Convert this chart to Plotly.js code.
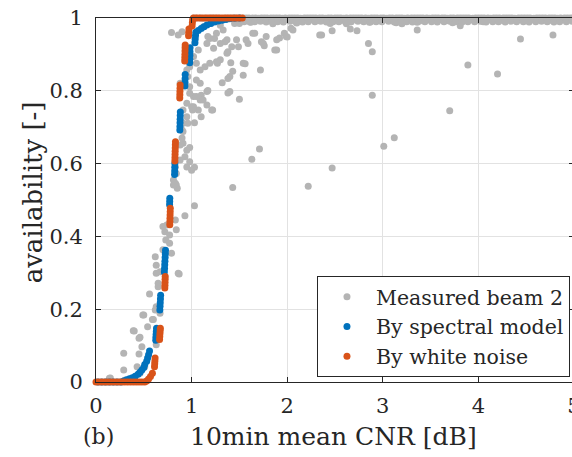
<!DOCTYPE html>
<html>
<head>
<meta charset="utf-8">
<script src="https://cdn.plot.ly/plotly-3.0.1.min.js"></script>
<style>
html, body { margin: 0; padding: 0; overflow: hidden; background: #fff; width: 572px; height: 457px; }
#chart { width: 580px; height: 457px; }
</style>
</head>
<body>
<div id="chart"></div>
<script>
// ---- Measured beam 2 (gray scatter) ----
const measX = [
  // outliers / scatter
  2.36, 2.47, 2.66, 2.73, 2.85, 2.89, 2.89, 3.01, 3.12, 3.36, 3.70, 3.81, 3.89, 4.20, 4.44, 4.78,
  2.47, 2.22, 1.71, 1.63, 1.43, 1.03, 1.03, 1.00, 0.98, 1.92, 2.00, 1.87, 1.76, 1.72, 1.56, 1.54,
  1.50, 1.40, 1.32, 1.38, 1.43, 1.41, 1.27, 1.17, 1.22, 1.16, 1.10, 1.09, 1.07, 1.10, 1.49, 1.38,
  1.59, 1.73, 1.35, 1.30, 1.24, 1.17, 1.97, 2.04, 1.66, 1.03, 1.37, 1.42, 1.47, 1.57, 1.64, 1.78,
  1.89, 1.75, 1.89, 1.99, 2.06, 2.34, 1.16, 1.23, 1.26, 1.33, 1.37, 1.19, 1.40, 1.54, 1.30, 1.38,
  1.09, 1.14, 1.19, 1.26, 1.09, 1.16, 1.12, 1.21, 1.02, 1.00, 1.01, 0.95, 0.91, 0.90, 0.91, 0.95,
  0.88, 0.83, 0.93, 0.95, 0.81, 0.84, 0.88, 0.95, 0.98, 1.05, 0.98, 0.96, 0.98, 0.98, 0.95, 0.91,
  0.96, 1.02, 1.05, 1.05, 1.07, 1.02, 0.91, 0.90, 0.98, 0.84, 0.85, 0.81, 0.93, 0.74, 0.72, 0.77,
  0.73, 0.70, 0.79, 0.88, 0.70, 0.84, 0.83, 0.87, 0.83, 0.30, 0.15, 0.46, 0.51, 0.29, 0.29, 0.39,
  0.45, 0.48, 0.45, 0.43, 0.49, 0.59, 0.62, 0.56, 0.63, 0.63, 0.63, 0.67, 0.65, 0.86, 0.62, 0.40,
  0.46, 0.54, 0.50, 0.60, 0.63, 0.65, 0.63, 0.67, 0.77, 0.14, 0.90, 0.86, 0.79,
  // just below the saturated band
  1.12, 1.20, 1.30, 1.45, 1.50, 1.62, 1.85, 2.10, 2.45, 2.62, 2.86, 3.14, 3.36, 3.73, 4.05, 3.20,
  // saturated band, row 1
  1.02, 1.09, 1.15, 1.22, 1.28, 1.35, 1.41, 1.47, 1.54, 1.60, 1.67, 1.73, 1.79, 1.86, 1.92, 1.98,
  2.05, 2.11, 2.18, 2.24, 2.30, 2.37, 2.43, 2.50, 2.56, 2.62, 2.69, 2.75, 2.82, 2.88, 2.94, 3.01,
  3.07, 3.14, 3.20, 3.26, 3.33, 3.39, 3.46, 3.52, 3.58, 3.65, 3.71, 3.78, 3.84, 3.90, 3.97, 4.03,
  4.10, 4.16, 4.22, 4.29, 4.35, 4.42, 4.48, 4.54, 4.61, 4.67, 4.74, 4.80, 4.86, 4.93, 4.99,
  // saturated band, row 2
  1.05, 1.12, 1.19, 1.25, 1.31, 1.38, 1.44, 1.51, 1.57, 1.64, 1.70, 1.76, 1.83, 1.89, 1.95, 2.02,
  2.08, 2.14, 2.21, 2.27, 2.34, 2.40, 2.46, 2.53, 2.59, 2.66, 2.72, 2.78, 2.85, 2.91, 2.98, 3.04,
  3.10, 3.17, 3.23, 3.30, 3.36, 3.42, 3.49, 3.55, 3.62, 3.68, 3.74, 3.81, 3.87, 3.94, 4.00, 4.06,
  4.13, 4.19, 4.26, 4.32, 4.38, 4.45, 4.51, 4.58, 4.64, 4.70, 4.77, 4.83, 4.90, 4.96,
  // saturated band, row 3
  1.53, 1.58, 1.63, 1.69, 1.75, 1.81, 1.87, 1.93, 1.99, 2.06, 2.12, 2.19, 2.25, 2.32, 2.38, 2.44,
  2.51, 2.57, 2.64, 2.70, 2.77, 2.83, 2.90, 2.96, 3.02, 3.09, 3.15, 3.22, 3.28, 3.34, 3.41, 3.47,
  3.54, 3.60, 3.67, 3.73, 3.79, 3.86, 3.92, 3.99, 4.05, 4.11, 4.18, 4.24, 4.31, 4.37, 4.43, 4.50,
  4.56, 4.63, 4.69, 4.75, 4.82, 4.88, 4.95, 5.00,
  // saturated band, row 4
  1.55, 1.61, 1.66, 1.72, 1.78, 1.84, 1.90, 1.96, 2.03, 2.09, 2.16, 2.22, 2.29, 2.35, 2.41, 2.48,
  2.54, 2.61, 2.67, 2.74, 2.80, 2.87, 2.93, 2.99, 3.06, 3.12, 3.19, 3.25, 3.31, 3.38, 3.44, 3.51,
  3.57, 3.64, 3.70, 3.76, 3.83, 3.89, 3.96, 4.02, 4.08, 4.15, 4.21, 4.28, 4.34, 4.40, 4.47, 4.53,
  4.60, 4.66, 4.72, 4.79, 4.85, 4.92, 4.98
];
const measY = [
  0.953, 0.965, 0.970, 0.965, 0.930, 0.907, 0.788, 0.648, 0.671, 0.967, 0.745, 0.979, 0.871, 0.846, 0.942, 0.953,
  0.588, 0.538, 0.640, 0.612, 0.534, 0.484, 0.590, 0.582, 0.644, 0.945, 0.948, 0.912, 0.924, 0.857, 0.874, 0.843,
  0.777, 0.798, 0.822, 0.834, 0.854, 0.877, 0.876, 0.801, 0.747, 0.761, 0.788, 0.775, 0.747, 0.729, 0.921, 0.907,
  0.930, 0.935, 0.935, 0.930, 0.944, 0.949, 0.958, 0.972, 0.958, 0.712, 0.903, 0.921, 0.940, 0.940, 0.958, 0.949,
  0.912, 0.930, 0.940, 0.949, 0.967, 0.953, 0.930, 0.917, 0.958, 0.967, 0.940, 0.944, 0.839, 0.876, 0.885, 0.794,
  0.857, 0.866, 0.876, 0.880, 0.821, 0.798, 0.775, 0.747, 0.784, 0.756, 0.747, 0.729, 0.711, 0.692, 0.656, 0.637,
  0.610, 0.591, 0.619, 0.591, 0.555, 0.541, 0.821, 0.857, 0.866, 0.876, 0.876, 0.839, 0.811, 0.793, 0.766, 0.747,
  0.711, 0.756, 0.784, 0.830, 0.912, 0.894, 0.688, 0.670, 0.605, 0.573, 0.532, 0.541, 0.457, 0.431, 0.413, 0.404,
  0.390, 0.363, 0.354, 0.651, 0.427, 0.418, 0.445, 0.297, 0.546, 0.005, 0.011, 0.024, 0.042, 0.079, 0.033, 0.141,
  0.120, 0.097, 0.077, 0.042, 0.184, 0.172, 0.198, 0.242, 0.102, 0.124, 0.321, 0.303, 0.271, 0.299, 0.344, 0.140,
  0.123, 0.152, 0.184, 0.172, 0.299, 0.262, 0.207, 0.189, 0.381, 0.010, 0.962, 0.953, 0.960,
  0.975, 0.985, 0.980, 0.985, 0.985, 0.988, 0.984, 0.986, 0.985, 0.984, 0.988, 0.987, 0.988, 0.987, 0.990, 0.984,
  1.000, 1.000, 1.000, 1.000, 1.000, 1.000, 1.000, 1.000, 1.000, 1.000, 1.000, 1.000, 1.000, 1.000, 1.000, 1.000,
  1.000, 1.000, 1.000, 1.000, 1.000, 1.000, 1.000, 1.000, 1.000, 1.000, 1.000, 1.000, 1.000, 1.000, 1.000, 1.000,
  1.000, 1.000, 1.000, 1.000, 1.000, 1.000, 1.000, 1.000, 1.000, 1.000, 1.000, 1.000, 1.000, 1.000, 1.000, 1.000,
  1.000, 1.000, 1.000, 1.000, 1.000, 1.000, 1.000, 1.000, 1.000, 1.000, 1.000, 1.000, 1.000, 1.000, 1.000,
  1.000, 0.999, 1.000, 1.000, 0.999, 1.000, 1.000, 0.999, 1.000, 1.000, 0.999, 1.000, 1.000, 1.000, 0.999, 1.000,
  1.000, 0.999, 1.000, 1.000, 1.000, 0.999, 1.000, 1.000, 0.999, 1.000, 1.000, 1.000, 0.999, 1.000, 1.000, 0.999,
  1.000, 1.000, 0.999, 1.000, 1.000, 1.000, 0.999, 1.000, 1.000, 0.999, 1.000, 1.000, 1.000, 0.999, 1.000, 1.000,
  0.999, 1.000, 1.000, 1.000, 0.999, 1.000, 1.000, 0.999, 1.000, 1.000, 1.000, 0.999, 1.000, 1.000,
  0.995, 0.994, 0.995, 0.996, 0.994, 0.995, 0.995, 0.994, 0.996, 0.995, 0.994, 0.995, 0.995, 0.996, 0.994, 0.995,
  0.995, 0.994, 0.995, 0.996, 0.995, 0.994, 0.995, 0.995, 0.996, 0.994, 0.995, 0.995, 0.994, 0.996, 0.995, 0.995,
  0.994, 0.995, 0.996, 0.995, 0.994, 0.995, 0.995, 0.996, 0.994, 0.995, 0.995, 0.994, 0.996, 0.995, 0.995, 0.994,
  0.995, 0.996, 0.995, 0.994, 0.995, 0.995, 0.996, 0.997,
  0.990, 0.989, 0.990, 0.991, 0.989, 0.990, 0.990, 0.989, 0.991, 0.990, 0.989, 0.990, 0.990, 0.991, 0.989, 0.990,
  0.990, 0.989, 0.990, 0.991, 0.990, 0.989, 0.990, 0.990, 0.991, 0.989, 0.990, 0.990, 0.989, 0.991, 0.990, 0.990,
  0.989, 0.990, 0.991, 0.990, 0.989, 0.990, 0.990, 0.991, 0.989, 0.990, 0.990, 0.989, 0.991, 0.990, 0.990, 0.989,
  0.990, 0.991, 0.990, 0.989, 0.990, 0.990, 0.991
];

// ---- By spectral model (blue) ----
const specX = [
  0.02, 0.06, 0.10, 0.14, 0.18, 0.22, 0.26,
  0.29, 0.32, 0.35, 0.38, 0.41, 0.44, 0.46, 0.48, 0.50, 0.51, 0.53, 0.54, 0.55, 0.56,
  0.625, 0.627, 0.629, 0.631, 0.633,
  0.668, 0.670, 0.672, 0.674, 0.676,
  0.715, 0.717, 0.719, 0.721, 0.723, 0.725, 0.727,
  0.770, 0.771, 0.772,
  0.822, 0.823, 0.824, 0.825,
  0.877, 0.878, 0.879, 0.880, 0.881, 0.882,
  0.930, 0.931, 0.932, 0.933,
  0.980, 0.981, 0.982, 0.983, 0.984,
  1.035, 1.038, 1.041, 1.044,
  1.07, 1.10, 1.13, 1.16, 1.20, 1.24, 1.28, 1.32, 1.36, 1.40, 1.45, 1.50
];
const specY = [
  0.000, 0.000, 0.000, 0.000, 0.000, 0.000, 0.000,
  0.003, 0.006, 0.009, 0.012, 0.016, 0.021, 0.027, 0.033, 0.040, 0.048, 0.057, 0.066, 0.075, 0.085,
  0.115, 0.123, 0.131, 0.139, 0.148,
  0.198, 0.208, 0.218, 0.228, 0.238,
  0.302, 0.312, 0.322, 0.332, 0.342, 0.352, 0.362,
  0.487, 0.496, 0.505,
  0.570, 0.580, 0.590, 0.600,
  0.692, 0.702, 0.712, 0.722, 0.732, 0.742,
  0.813, 0.823, 0.833, 0.845,
  0.877, 0.887, 0.897, 0.907, 0.918,
  0.932, 0.942, 0.952, 0.961,
  0.966, 0.971, 0.976, 0.981, 0.985, 0.989, 0.992, 0.994, 0.996, 0.998, 0.999, 1.000
];

// ---- By white noise (orange) ----
const whiteX = [
  0.00, 0.03, 0.06, 0.09, 0.12, 0.15, 0.18, 0.21, 0.24, 0.27, 0.30, 0.33, 0.36, 0.39, 0.42, 0.45, 0.48, 0.51,
  0.53, 0.55, 0.57, 0.59,
  0.612, 0.614, 0.616, 0.618,
  0.665, 0.667, 0.669, 0.671, 0.673,
  0.720, 0.721, 0.722, 0.723, 0.724,
  0.772, 0.773, 0.774, 0.775, 0.776, 0.777,
  0.825, 0.826, 0.827, 0.828, 0.829, 0.830, 0.831,
  0.876, 0.877, 0.878, 0.879, 0.880,
  0.928, 0.929, 0.930, 0.931, 0.932, 0.933,
  0.968, 0.970, 0.972,
  1.005, 1.008, 1.011,
  1.02, 1.05, 1.08, 1.11, 1.14, 1.17, 1.20, 1.23, 1.26, 1.29, 1.32, 1.35, 1.38, 1.41, 1.44, 1.47, 1.50, 1.53
];
const whiteY = [
  0.000, 0.000, 0.000, 0.000, 0.000, 0.000, 0.000, 0.000, 0.000, 0.000, 0.000, 0.000, 0.000, 0.000, 0.000, 0.000, 0.000, 0.000,
  0.003, 0.008, 0.015, 0.024,
  0.042, 0.050, 0.058, 0.066,
  0.117, 0.125, 0.133, 0.141, 0.148,
  0.258, 0.266, 0.274, 0.282, 0.290,
  0.432, 0.441, 0.450, 0.459, 0.468, 0.477,
  0.607, 0.616, 0.625, 0.634, 0.643, 0.652, 0.660,
  0.780, 0.789, 0.798, 0.807, 0.816,
  0.882, 0.891, 0.900, 0.909, 0.918, 0.926,
  0.951, 0.960, 0.970,
  0.978, 0.987, 0.995,
  1.000, 1.000, 1.000, 1.000, 1.000, 1.000, 1.000, 1.000, 1.000, 1.000, 1.000, 1.000, 1.000, 1.000, 1.000, 1.000, 1.000, 1.000
];

const seriesNames = ['Measured beam 2', 'By spectral model', 'By white noise'];
const xTickVals = [0, 1, 2, 3, 4, 5];
const xTickText = ['0', '1', '2', '3', '4', '5'];
const yTickVals = [0, 0.2, 0.4, 0.6, 0.8, 1];
const yTickText = ['0', '0.2', '0.4', '0.6', '0.8', '1'];

const FONT = 'DejaVu Serif';
const INK = '#262626';

const mk = (color) => ({ color: color, size: 7, line: { width: 0 } });

const traces = [
  { x: measX, y: measY, name: seriesNames[0], type: 'scatter', mode: 'markers', marker: mk('#b4b4b4'), cliponaxis: false },
  { x: specX, y: specY, name: seriesNames[1], type: 'scatter', mode: 'markers', marker: mk('#0072bd'), cliponaxis: false },
  { x: whiteX, y: whiteY, name: seriesNames[2], type: 'scatter', mode: 'markers', marker: mk('#d95319'), cliponaxis: false }
];

const axisCommon = {
  ticks: 'inside', ticklen: 5, tickwidth: 1, tickcolor: INK,
  showline: true, linecolor: INK, linewidth: 1, mirror: 'ticks',
  showgrid: true, gridcolor: '#e2e2e2', gridwidth: 1, zeroline: false,
  ticklabeloverflow: 'allow',
  tickfont: { family: FONT, size: 21, color: INK }
};

const layout = {
  width: 580, height: 457,
  margin: { l: 96, r: 6, t: 18, b: 75 },
  paper_bgcolor: '#ffffff', plot_bgcolor: '#ffffff',
  showlegend: true,
  xaxis: Object.assign({}, axisCommon, { range: [0, 5], tickvals: xTickVals, ticktext: xTickText, ticklabelstandoff: 5 }),
  yaxis: Object.assign({}, axisCommon, { range: [0, 1], tickvals: yTickVals, ticktext: yTickText, ticklabelstandoff: 8 }),
  legend: {
    x: 0.4623, y: 0.2912, xanchor: 'left', yanchor: 'top',
    bgcolor: '#ffffff', bordercolor: INK, borderwidth: 1,
    font: { family: FONT, size: 20.5, color: INK },
    itemwidth: 48
  },
  annotations: [
    { text: '(b)', xref: 'paper', yref: 'paper', x: 0.0042, y: -0.151, showarrow: false, xanchor: 'center', yanchor: 'middle', font: { family: FONT, size: 22, color: INK } },
    { text: '10min mean CNR [dB]', xref: 'paper', yref: 'paper', x: 0.496, y: -0.151, showarrow: false, xanchor: 'center', yanchor: 'middle', font: { family: FONT, size: 25, color: INK } },
    { text: 'availability [-]', xref: 'paper', yref: 'paper', x: -0.131, y: 0.522, showarrow: false, textangle: -90, xanchor: 'center', yanchor: 'middle', font: { family: FONT, size: 26, color: INK } }
  ]
};

Plotly.newPlot('chart', traces, layout, { displayModeBar: false, staticPlot: true });
</script>
</body>
</html>
